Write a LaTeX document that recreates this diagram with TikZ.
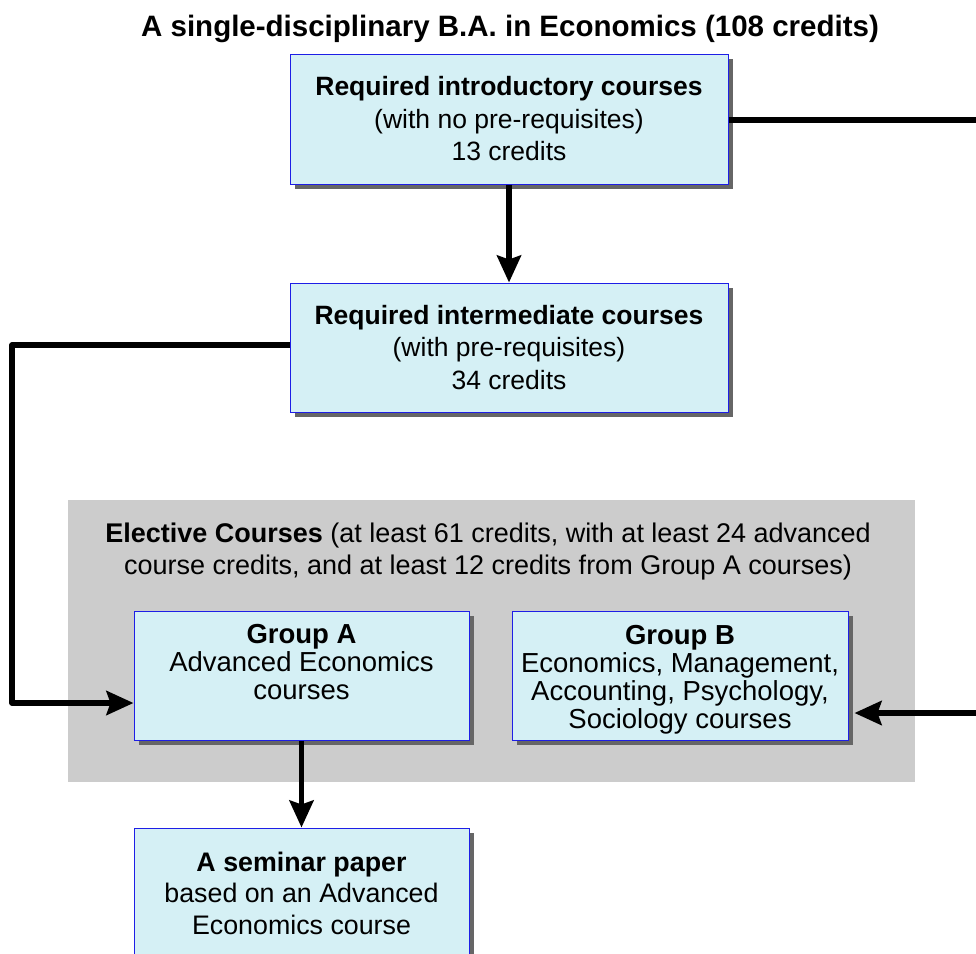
\documentclass[tikz,border=0pt]{standalone}
\usepackage{fontspec}
\setmainfont{Liberation Sans}
\usetikzlibrary{arrows.meta,shadows}
\definecolor{boxfill}{RGB}{213,240,245}
\definecolor{boxline}{RGB}{30,30,230}
\definecolor{shadowgray}{RGB}{102,102,102}
\definecolor{panelgray}{RGB}{204,204,204}
\tikzset{
  coursebox/.style={rectangle, draw=boxline, line width=1pt, fill=boxfill,
    general shadow={fill=shadowgray, shadow xshift=5pt, shadow yshift=-5pt},
    align=center, inner sep=0pt, font=\fontsize{26.5}{32}\selectfont},
  flow/.style={line width=5.5pt, -{Stealth[length=27pt,width=24pt,inset=4pt]}}
}
\begin{document}
\begin{tikzpicture}[x=1pt,y=-1pt]
\useasboundingbox (0,0) rectangle (976,953);
\clip (0,0) rectangle (976,953);
% title
\node (title) at (510,29) {\fontsize{29.5}{34}\selectfont\bfseries A single-disciplinary B.A. in Economics (108 credits)};
% elective panel
\fill[panelgray] (68,500) rectangle (915,782);
\node[align=center, font=\fontsize{27}{32}\selectfont] (elect) at (488,552)
  {\textbf{Elective Courses} (at least 61 credits, with at least 24 advanced\\course credits, and at least 12 credits from Group A courses)};
% boxes
\node[coursebox, minimum width=438pt, minimum height=130pt, font=\fontsize{26.5}{32.5}\selectfont] (b1) at (509,119)
  {\textbf{Required introductory courses}\\(with no pre-requisites)\\13 credits};
\node[coursebox, minimum width=438pt, minimum height=129pt, font=\fontsize{26.5}{32.5}\selectfont] (b2) at (509,347.5)
  {\textbf{Required intermediate courses}\\(with pre-requisites)\\34 credits};
\node[coursebox, minimum width=335pt, minimum height=129pt, font=\fontsize{27.5}{28}\selectfont] (ga) at (301.5,675.5)
  {\textbf{Group A}\\Advanced Economics\\courses\\\mbox{}};
\node[coursebox, minimum width=336pt, minimum height=129pt, font=\fontsize{27.5}{28}\selectfont] (gb) at (680,675.5)
  {\rule{0pt}{28pt}\textbf{Group B}\\Economics, Management,\\Accounting, Psychology,\\Sociology courses};
\node[coursebox, minimum width=335pt, minimum height=130pt, font=\fontsize{26.8}{31.5}\selectfont] (sem) at (301.5,893)
  {\textbf{A seminar paper}\\based on an Advanced\\Economics course};
% connectors
\draw[flow] (b1.south) -- (b2.north);
\draw[flow] (ga.south) -- (sem.north);
\coordinate (lt) at (12,345);
\coordinate (lb) at (12,703);
\coordinate (b2w) at ([yshift=2.5pt]b2.west);
\draw[flow, line join=round] (b2w) -- (lt) -- (lb) -- (ga.west |- lb);
\coordinate (rt) at (995,120);
\coordinate (rb) at (995,713);
\coordinate (gbin) at ([xshift=6pt]gb.east);
\draw[flow] (b1.east |- rt) -- (rt) -- (rb) -- (gbin |- rb);
\end{tikzpicture}
\end{document}
